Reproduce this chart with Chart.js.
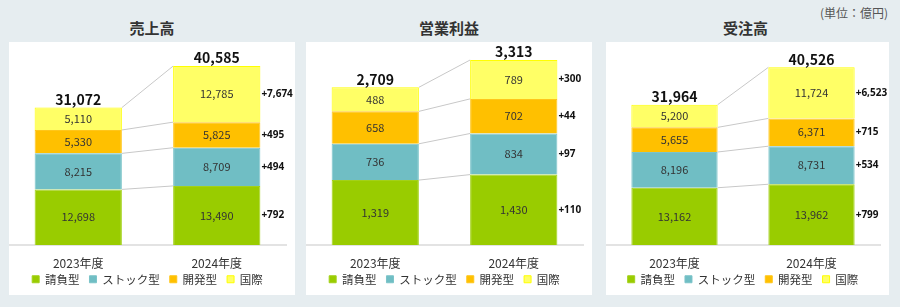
<!DOCTYPE html>
<html lang="ja">
<head>
  <meta charset="UTF-8" />
  <title>売上高・営業利益・受注高</title>
  <script src="https://cdn.jsdelivr.net/npm/chart.js"></script>
  <style>
    body {
      margin: 0;
      width: 900px;
      height: 307px;
      background-color: #e6edf0;
      font-family: "Noto Sans CJK JP", "Noto Sans", sans-serif;
      position: relative;
      overflow: hidden;
    }
    .title {
      position: absolute;
      top: 17px;
      font-size: 15px;
      font-weight: bold;
      color: #333333;
      text-align: center;
      width: 286px;
    }
    .card {
      position: absolute;
      top: 42px;
      height: 253px;
      background-color: #ffffff;
    }
    .unit {
      position: absolute;
      right: 12px;
      top: 4px;
      font-size: 12px;
      color: #555555;
    }
  </style>
</head>
<body>

  <div class="unit">(単位：億円)</div>

  <div class="title" style="left: 9px;">売上高</div>
  <div class="title" style="left: 306px;">営業利益</div>
  <div class="title" style="left: 604px; width: 283px;">受注高</div>

  <div class="card" style="left: 9px; width: 286px;"><canvas id="salesChart" width="286" height="253"></canvas></div>
  <div class="card" style="left: 306px; width: 286px;"><canvas id="profitChart" width="286" height="253"></canvas></div>
  <div class="card" style="left: 606px; width: 283px;"><canvas id="ordersChart" width="283" height="253"></canvas></div>

  <script>
    const years = ['2023年度', '2024年度'];
    const segments = ['請負型', 'ストック型', '開発型', '国際'];

    // 売上高 (segment order: 請負型, ストック型, 開発型, 国際)
    const salesSeg = [[12698, 13490], [8215, 8709], [5330, 5825], [5110, 12785]];
    const salesTotal = [31072, 40585];
    const salesDelta = [792, 494, 495, 7674];

    // 営業利益
    const profitSeg = [[1319, 1430], [736, 834], [658, 702], [488, 789]];
    const profitTotal = [2709, 3313];
    const profitDelta = [110, 97, 44, 300];

    // 受注高
    const ordersSeg = [[13162, 13962], [8196, 8731], [5655, 6371], [5200, 11724]];
    const ordersTotal = [31964, 40526];
    const ordersDelta = [799, 534, 715, 6523];

    const colors = ['#99cc00', '#70bec4', '#ffc000', '#ffff66'];
    const borders = ['#a3d11a', '#7cc4c9', '#ffc61a', '#ffff00'];
    const FONT = '"Noto Sans CJK JP", "Noto Sans", sans-serif';
    const NUM_FONT = '"Noto Sans", "Noto Sans CJK JP", sans-serif';

    const fmt = v => v.toLocaleString('en-US');

    // draws connectors, segment values, totals and deltas
    const labelPlugin = {
      id: 'barLabels',
      afterDatasetsDraw(chart, args, opts) {
        const ctx = chart.ctx;
        const metas = chart.data.datasets.map((d, i) => chart.getDatasetMeta(i));
        ctx.save();

        // connector lines between segment tops
        ctx.strokeStyle = '#c8c8c8';
        ctx.lineWidth = 1;
        metas.forEach(meta => {
          const a = meta.data[0], b = meta.data[1];
          ctx.beginPath();
          ctx.moveTo(a.x + a.width / 2, a.y);
          ctx.lineTo(b.x - b.width / 2, b.y);
          ctx.stroke();
        });

        // values inside segments
        ctx.font = '11px ' + FONT;
        ctx.fillStyle = '#333333';
        ctx.textAlign = 'center';
        ctx.textBaseline = 'middle';
        metas.forEach((meta, i) => {
          meta.data.forEach((el, j) => {
            const v = chart.data.datasets[i].data[j];
            ctx.fillText(fmt(v), el.x, (el.y + el.base) / 2);
          });
        });

        // deltas right of the 2024 bar
        ctx.font = 'bold 10px ' + NUM_FONT;
        ctx.fillStyle = '#111111';
        ctx.textAlign = 'left';
        metas.forEach((meta, i) => {
          const el = meta.data[1];
          ctx.fillText('+' + fmt(opts.deltas[i]), el.x + el.width / 2 + 1, (el.y + el.base) / 2);
        });

        // totals above bars
        ctx.font = 'bold 14px ' + FONT;
        ctx.textAlign = 'center';
        ctx.textBaseline = 'bottom';
        const top = metas[metas.length - 1];
        top.data.forEach((el, j) => {
          ctx.fillText(fmt(opts.totals[j]), el.x, el.y - 1);
        });

        ctx.restore();
      }
    };

    // legend items with a little extra room after each label
    function spacedLabels(chart) {
      const items = Chart.defaults.plugins.legend.labels.generateLabels(chart);
      items.forEach((it, i) => {
        if (i < items.length - 1) it.text += '\u2002\u2009';
      });
      return items;
    }

    function makeChart(id, seg, totals, deltas, yMax) {
      const ctx = document.getElementById(id).getContext('2d');
      return new Chart(ctx, {
        type: 'bar',
        data: {
          labels: years,
          datasets: segments.map((name, i) => ({
            label: name,
            data: seg[i],
            backgroundColor: colors[i],
            borderColor: borders[i],
            borderWidth: 1,
            categoryPercentage: 1,
            barPercentage: 0.63
          }))
        },
        options: {
          responsive: false,
          animation: false,
          layout: { padding: { left: 0, right: 9, top: 0, bottom: 0 } },
          plugins: {
            legend: {
              position: 'bottom',
              labels: {
                color: '#333333',
                boxWidth: 7,
                boxHeight: 7,
                padding: 2,
                font: { family: FONT, size: 11.5 },
                generateLabels: spacedLabels
              }
            },
            tooltip: { enabled: false },
            barLabels: { totals: totals, deltas: deltas }
          },
          scales: {
            x: {
              stacked: true,
              grid: { display: false },
              border: { color: '#e3e3e3', width: 2 },
              ticks: { color: '#333333', padding: 3, font: { family: FONT, size: 12 } },
              afterFit(scale) { scale.height -= 2; }
            },
            y: {
              stacked: true,
              display: false,
              min: 0,
              max: yMax
            }
          }
        },
        plugins: [labelPlugin]
      });
    }

    makeChart('salesChart', salesSeg, salesTotal, salesDelta, 46300);
    makeChart('profitChart', profitSeg, profitTotal, profitDelta, 4120);
    makeChart('ordersChart', ordersSeg, ordersTotal, ordersDelta, 46600);
  </script>
</body>
</html>
